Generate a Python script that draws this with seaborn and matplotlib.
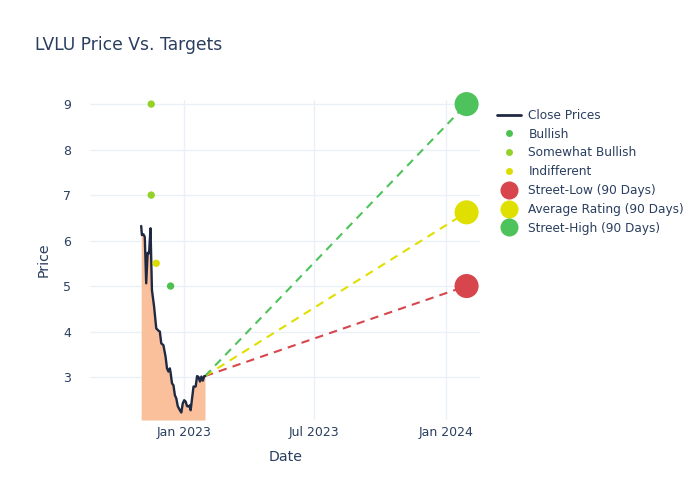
import pandas as pd
import seaborn as sns
import matplotlib.pyplot as plt
import matplotlib.dates as mdates
from matplotlib.lines import Line2D

# close prices
close_dates = ['2022-11-02', '2022-11-03', '2022-11-05', '2022-11-07', '2022-11-09', '2022-11-11',
               '2022-11-13', '2022-11-15', '2022-11-17', '2022-11-20', '2022-11-23', '2022-11-26',
               '2022-11-28', '2022-11-30', '2022-12-03', '2022-12-06', '2022-12-08', '2022-12-10',
               '2022-12-12', '2022-12-13', '2022-12-15', '2022-12-17', '2022-12-19', '2022-12-21',
               '2022-12-23', '2022-12-26', '2022-12-28', '2022-12-30', '2023-01-01', '2023-01-03',
               '2023-01-05', '2023-01-07', '2023-01-09', '2023-01-10', '2023-01-12', '2023-01-14',
               '2023-01-17', '2023-01-19', '2023-01-21', '2023-01-23', '2023-01-25', '2023-01-27',
               '2023-01-29', '2023-01-30']
close_prices = [6.32, 6.12, 6.14, 6.08, 5.06, 5.73,
                5.72, 6.27, 4.91, 4.55, 4.07, 4.02,
                4.00, 3.74, 3.70, 3.45, 3.19, 3.12,
                3.19, 3.10, 2.86, 2.82, 2.60, 2.53,
                2.36, 2.27, 2.22, 2.42, 2.49, 2.46,
                2.36, 2.35, 2.38, 2.27, 2.53, 2.79,
                2.79, 3.02, 3.00, 2.90, 3.01, 2.92,
                3.02, 3.02]

# analyst ratings
rating_dates = ['2022-11-16', '2022-11-16', '2022-11-23', '2022-12-13']
rating_prices = [9.0, 7.0, 5.5, 5.0]
rating_labels = ['Somewhat Bullish', 'Somewhat Bullish', 'Indifferent', 'Bullish']

# 90 day targets, one year out
target_date = '2024-01-30'
target_names = ['Street-Low (90 Days)', 'Average Rating (90 Days)', 'Street-High (90 Days)']
target_values = [5.0, 6.62, 9.0]

rating_colors = {'Bullish': '#4dc14f', 'Somewhat Bullish': '#94d127', 'Indifferent': '#dcdc00'}
target_colors = ['#d6464c', '#dfdf00', '#4fc35b']
text_color = '#2a3f5f'
grid_color = '#ebf0f8'

df = pd.DataFrame({'Date': pd.to_datetime(close_dates), 'Close': close_prices})
ratings = pd.DataFrame({'Date': pd.to_datetime(rating_dates), 'Price': rating_prices,
                        'Rating': rating_labels})

sns.set_theme(style='white')
plt.rcParams['font.family'] = ['DejaVu Sans']

fig = plt.figure(figsize=(7, 5), dpi=100)
ax = fig.add_axes([0.129, 0.16, 0.557, 0.64])

ymin, ymax = 2.055, 9.09
ax.fill_between(df['Date'], df['Close'], ymin, color='#fabf9b', lw=0, zorder=1)
sns.lineplot(data=df, x='Date', y='Close', color='#1f2942', lw=1.7, ax=ax, zorder=3)

sns.scatterplot(data=ratings, x='Date', y='Price', hue='Rating', palette=rating_colors,
                s=28, edgecolor='none', legend=False, ax=ax, zorder=4)

last_date = df['Date'].iloc[-1]
last_price = df['Close'].iloc[-1]
tdate = pd.Timestamp(target_date)
for name, val, col in zip(target_names, target_values, target_colors):
    ax.plot([last_date, tdate], [last_price, val], ls=(0, (4, 3)), color=col, lw=1.5, zorder=2)
    ax.scatter([tdate], [val], s=300, color=col, edgecolor='none', zorder=5, clip_on=False)

ax.set_ylim(ymin, ymax)
ax.set_xlim(pd.Timestamp('2022-08-23'), pd.Timestamp('2024-02-18'))
ax.set_yticks([3, 4, 5, 6, 7, 8, 9])
ax.set_xticks(pd.to_datetime(['2023-01-01', '2023-07-01', '2024-01-01']))
ax.xaxis.set_major_formatter(mdates.DateFormatter('%b %Y'))
ax.grid(True, color=grid_color, lw=1)
ax.set_axisbelow(True)
for s in ax.spines.values():
    s.set_visible(False)
ax.tick_params(axis='both', length=0, labelsize=9, colors=text_color)
ax.tick_params(axis='y', pad=14)
ax.tick_params(axis='x', pad=4)
ax.set_xlabel('Date', fontsize=10.2, color=text_color, labelpad=8)
ax.set_ylabel('Price', fontsize=10.2, color=text_color, labelpad=9)

fig.text(0.05, 0.91, 'LVLU Price Vs. Targets', fontsize=12.3, color=text_color, va='center')

handles = [Line2D([], [], color='#1f2942', lw=2)]
for r in ['Bullish', 'Somewhat Bullish', 'Indifferent']:
    handles.append(Line2D([], [], ls='', marker='o', ms=5, color=rating_colors[r], mec='none'))
for col in target_colors:
    handles.append(Line2D([], [], ls='', marker='o', ms=13, color=col, mec='none'))
labels = ['Close Prices', 'Bullish', 'Somewhat Bullish', 'Indifferent'] + target_names
leg = fig.legend(handles, labels, loc='upper left', bbox_to_anchor=(0.703, 0.792), frameon=False,
                 fontsize=8.7, labelspacing=0.48, handlelength=2.0, handletextpad=0.6,
                 borderaxespad=0)
for t in leg.get_texts():
    t.set_color(text_color)

plt.savefig('out.png', dpi=100)
